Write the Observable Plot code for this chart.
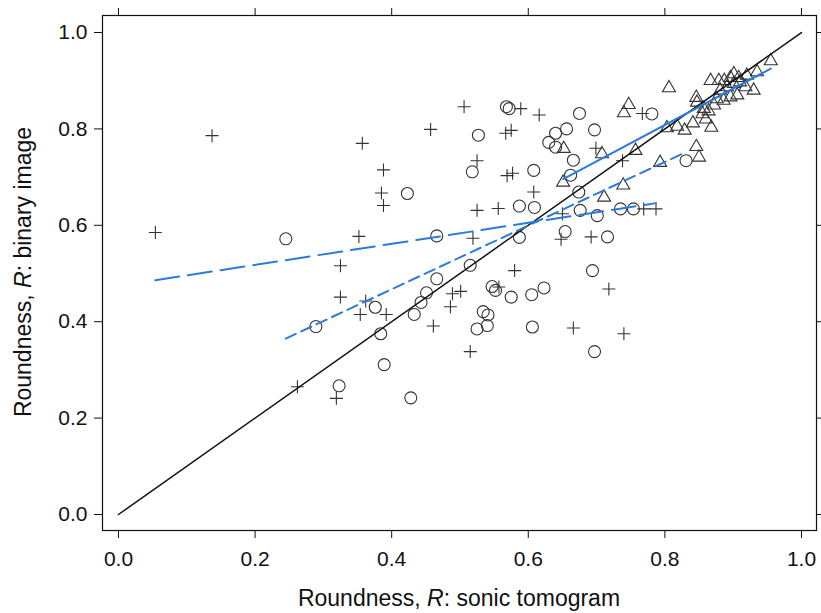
<!DOCTYPE html>
<html><head><meta charset="utf-8">
<script src="https://cdn.jsdelivr.net/npm/d3@7"></script>
<script src="https://cdn.jsdelivr.net/npm/@observablehq/plot@0.6"></script>
<style>body{margin:0;background:#fff;}</style>
</head><body><div id="chart"></div>
<script>
// Group 1: "+" symbols
const plusX = [0.054,0.137,0.357,0.352,0.325,0.325,0.362,0.354,0.392,0.388,0.385,0.388,0.262,0.319,0.457,0.461,0.486,0.489,0.501,0.506,0.525,0.525,0.519,0.515,0.556,0.567,0.575,0.589,0.569,0.577,0.580,0.608,0.616,0.648,0.650,0.666,0.692,0.699,0.718,0.738,0.740,0.767,0.769,0.787,0.557];
const plusY = [0.585,0.786,0.770,0.577,0.516,0.451,0.443,0.415,0.415,0.715,0.667,0.641,0.265,0.241,0.799,0.391,0.431,0.458,0.463,0.846,0.734,0.631,0.573,0.338,0.635,0.791,0.797,0.842,0.703,0.708,0.506,0.669,0.829,0.571,0.624,0.387,0.576,0.760,0.468,0.734,0.375,0.832,0.634,0.634,0.472];
// Group 2: circles
const circX = [0.245,0.289,0.323,0.376,0.384,0.389,0.423,0.428,0.433,0.443,0.451,0.466,0.466,0.515,0.518,0.527,0.525,0.540,0.534,0.541,0.547,0.552,0.568,0.572,0.575,0.587,0.587,0.605,0.606,0.609,0.608,0.623,0.630,0.640,0.640,0.656,0.654,0.662,0.666,0.674,0.675,0.676,0.694,0.697,0.697,0.701,0.716,0.735,0.754,0.781,0.831];
const circY = [0.572,0.390,0.267,0.430,0.375,0.311,0.666,0.242,0.415,0.440,0.460,0.489,0.578,0.517,0.711,0.787,0.385,0.392,0.421,0.414,0.473,0.465,0.846,0.842,0.451,0.575,0.640,0.456,0.389,0.637,0.714,0.470,0.772,0.762,0.791,0.800,0.587,0.704,0.735,0.669,0.832,0.631,0.506,0.798,0.338,0.620,0.576,0.634,0.634,0.831,0.734];
// Group 3: triangles
const triX = [0.651,0.652,0.708,0.711,0.739,0.740,0.747,0.757,0.793,0.806,0.803,0.818,0.829,0.841,0.846,0.847,0.846,0.850,0.855,0.857,0.864,0.868,0.872,0.867,0.879,0.887,0.896,0.901,0.908,0.920,0.935,0.955,0.881,0.891,0.901,0.910,0.886,0.896,0.906,0.918,0.930,0.876,0.860];
const triY = [0.689,0.759,0.748,0.658,0.683,0.833,0.850,0.755,0.730,0.885,0.802,0.805,0.797,0.812,0.865,0.855,0.763,0.741,0.831,0.842,0.837,0.803,0.849,0.900,0.900,0.900,0.906,0.914,0.906,0.911,0.918,0.941,0.880,0.887,0.894,0.897,0.859,0.866,0.870,0.887,0.880,0.862,0.820];
// Fitted lines (end points)
const fitPlusX = [0.054, 0.787], fitPlusY = [0.486, 0.646];
const fitCircX = [0.245, 0.831], fitCircY = [0.365, 0.752];
const fitTriX = [0.651, 0.955], fitTriY = [0.696, 0.925];
const identX = [0, 1], identY = [0, 1];
// Axes
const ticks = [0, 0.2, 0.4, 0.6, 0.8, 1.0];
const xTitle = ["Roundness, ", "R", ": sonic tomogram"];
const yTitle = ["Roundness, ", "R", ": binary image"];

const BLUE = "#2b7bdc";
const INK = "#333";
const pts = (xs, ys) => xs.map((x, i) => ({x, y: ys[i]}));

const plusSymbol = {draw(c, size) { const r = Math.sqrt(size / Math.PI); c.moveTo(-r, 0); c.lineTo(r, 0); c.moveTo(0, -r); c.lineTo(0, r); }};
const triSymbol = {draw(c, size) { const r = Math.sqrt(size / Math.PI); c.moveTo(0, -r); c.lineTo(r * 0.866, r * 0.5); c.lineTo(-r * 0.866, r * 0.5); c.closePath(); }};

const font = "'Liberation Sans', Arial, Helvetica, sans-serif";
const chart = Plot.plot({
  width: 821, height: 613,
  marginLeft: 102, marginRight: 5, marginTop: 15, marginBottom: 83,
  style: {fontFamily: font, background: "white", color: "#111"},
  x: {domain: [-0.0234, 1.022]},
  y: {domain: [-0.0332, 1.0353]},
  marks: [
    Plot.frame({stroke: "#111", strokeWidth: 1.2}),
    Plot.axisX({anchor: "bottom", ticks, tickFormat: d => d.toFixed(1), tickSize: 8, tickPadding: 13, fontSize: 21, label: null}),
    Plot.axisX({anchor: "top", ticks, tickFormat: () => "", tickSize: 8, label: null}),
    Plot.axisY({anchor: "left", ticks, tickFormat: d => d.toFixed(1), tickSize: 8, tickPadding: 7, fontSize: 21, label: null}),
    Plot.axisY({anchor: "right", ticks, tickFormat: () => "", tickSize: 8, label: null}),
    Plot.dot(pts(plusX, plusY), {x: "x", y: "y", symbol: plusSymbol, r: 6.5, fill: "none", stroke: INK, strokeWidth: 1.1}),
    Plot.dot(pts(circX, circY), {x: "x", y: "y", symbol: "circle", r: 6, fill: "none", stroke: INK, strokeWidth: 1.1}),
    Plot.dot(pts(triX, triY), {x: "x", y: "y", symbol: triSymbol, r: 7.5, fill: "none", stroke: INK, strokeWidth: 1.1}),
    Plot.line(pts(identX, identY), {x: "x", y: "y", stroke: "#111", strokeWidth: 1.5}),
    Plot.line(pts(fitPlusX, fitPlusY), {x: "x", y: "y", stroke: BLUE, strokeWidth: 2, strokeDasharray: "24,9"}),
    Plot.line(pts(fitCircX, fitCircY), {x: "x", y: "y", stroke: BLUE, strokeWidth: 2, strokeDasharray: "11,6"}),
    Plot.line(pts(fitTriX, fitTriY), {x: "x", y: "y", stroke: BLUE, strokeWidth: 2})
  ]
});
document.getElementById("chart").appendChild(chart);

const svg = d3.select(chart);
function addTitle(parts, attrs) {
  const t = svg.append("text")
    .attr("text-anchor", "middle")
    .attr("font-family", font)
    .attr("font-size", 23)
    .attr("fill", "#111");
  for (const [k, v] of Object.entries(attrs)) t.attr(k, v);
  parts.forEach((p, i) => t.append("tspan").attr("font-style", i === 1 ? "italic" : "normal").text(p));
}
addTitle(xTitle, {x: 459, y: 606});
addTitle(yTitle, {transform: "translate(31,272) rotate(-90)"});
</script>
</body></html>
